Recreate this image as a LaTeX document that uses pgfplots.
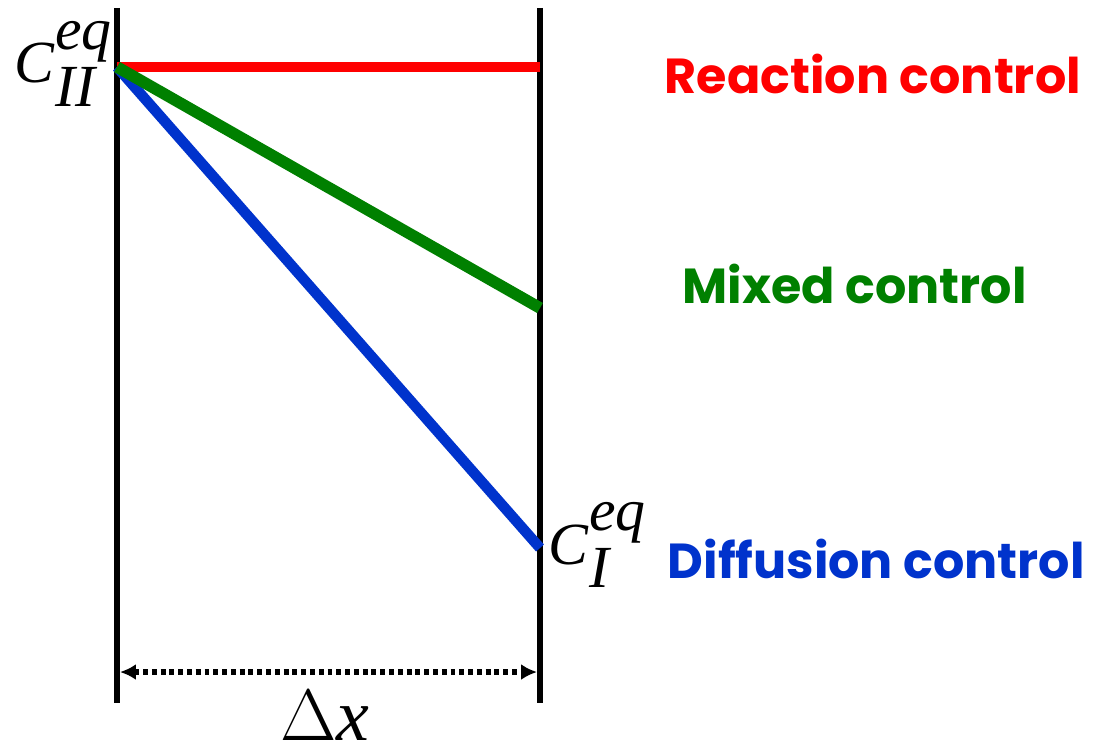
\documentclass[border=0pt]{standalone}
\usepackage{pgfplots}
\pgfplotsset{compat=1.18}
\usepackage{fontspec}
\setmainfont{Liberation Serif}
\newfontfamily\labelfont{Poppins}
\usetikzlibrary{arrows.meta}

\definecolor{rxred}{RGB}{255,0,0}
\definecolor{mixgreen}{RGB}{0,128,0}
\definecolor{difblue}{RGB}{0,51,204}

\begin{document}
\begin{tikzpicture}
	\begin{axis}[
	scale only axis,
	width=11.04cm, height=7.52cm,
	xmin=0, xmax=1104,
	ymin=-752, ymax=0,
	hide axis,
	clip=false,
	]
	\coordinate (sw) at (axis cs:0,-752);
	\coordinate (ne) at (axis cs:1104,0);
	% walls
	\addplot [black, line width=1.8pt] coordinates {(117,-8) (117,-703)};
	\addplot [black, line width=1.8pt] coordinates {(540,-8) (540,-703)};

	% profiles
	\addplot [rxred, line width=3.0pt] coordinates {(117,-67) (540,-67)};
	\addplot [difblue, line width=3.0pt] coordinates {(117,-67) (540,-548)};
	\addplot [mixgreen, line width=3.3pt] coordinates {(117,-67) (540,-308)};

	% thickness
	\addplot [black, line width=1.5pt, dash pattern=on 1.4pt off 1.1pt,
		{Latex[length=4.5pt,width=4.5pt]}-{Latex[length=4.5pt,width=4.5pt]}]
		coordinates {(120,-672) (537,-672)};

	\node at (axis cs:325,-716) {\fontsize{21}{25}\selectfont $\Delta$\textit{x}};
	\node at (axis cs:64,-64) {\fontsize{17}{20}\selectfont\textit{C}$^{\textit{eq}}_{\textit{II}}$};
	\node at (axis cs:598,-545) {\fontsize{17}{20}\selectfont\textit{C}$^{\textit{eq}}_{\textit{I}}$};

	\node [anchor=base west, text=rxred, inner sep=0pt] at (axis cs:664,-93)
		{\labelfont\bfseries\fontsize{14}{17}\selectfont Reaction control};
	\node [anchor=base west, text=mixgreen, inner sep=0pt] at (axis cs:682,-303)
		{\labelfont\bfseries\fontsize{14}{17}\selectfont Mixed control};
	\node [anchor=base west, text=difblue, inner sep=0pt] at (axis cs:667,-578)
		{\labelfont\bfseries\fontsize{14}{17}\selectfont Diffusion control};
	\end{axis}
	\pgfresetboundingbox
	\path [use as bounding box] (sw) rectangle (ne);
\end{tikzpicture}
\end{document}
